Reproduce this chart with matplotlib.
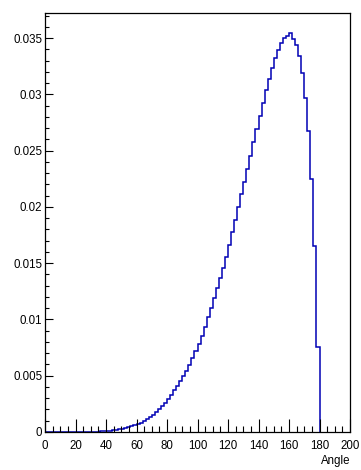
import numpy as np
import matplotlib
matplotlib.use("Agg")
import matplotlib.pyplot as plt
from matplotlib.ticker import MultipleLocator, FuncFormatter

# angle histogram, 2 degree bins from 0 to 180
bin_edges = np.arange(0, 182, 2)
counts = [
    0, 0, 0, 0, 0, 0, 0, 0, 0, 0, 0, 0, 0, 0,
    0.00001, 0.00002, 0.00003, 0.00004, 0.00006, 0.00008,
    0.00010, 0.00013, 0.00017, 0.00021, 0.00026, 0.00031,
    0.00037, 0.00044, 0.00052, 0.00061, 0.00072, 0.00084,
    0.00097, 0.00112, 0.00132, 0.00155, 0.00180, 0.00205,
    0.00232, 0.00262, 0.00295, 0.00332, 0.00370, 0.00410,
    0.00452, 0.00498, 0.00545, 0.00598, 0.00655, 0.00720,
    0.00785, 0.00855, 0.00935, 0.01018, 0.01103, 0.01190,
    0.01278, 0.01370, 0.01460, 0.01558, 0.01665, 0.01775,
    0.01885, 0.02000, 0.02112, 0.02222, 0.02335, 0.02455,
    0.02572, 0.02690, 0.02810, 0.02925, 0.03035, 0.03140,
    0.03235, 0.03320, 0.03395, 0.03460, 0.03500, 0.03522,
    0.03545, 0.03495, 0.03440, 0.03340, 0.03190, 0.02970,
    0.02670, 0.02250, 0.01650, 0.00755,
]
x_label = "Angle"

plt.rcParams['font.family'] = ['Liberation Sans', 'DejaVu Sans']

fig = plt.figure(figsize=(3.61, 4.70), dpi=100)
ax = fig.add_axes([45/361, 38/470, 305/361, 419/470])

ax.stairs(counts, bin_edges, color='#0000b4', linewidth=1.1, zorder=1)

ax.set_xlim(0, 200)
ax.set_ylim(0, 1.05*max(counts))

ax.xaxis.set_major_locator(MultipleLocator(20))
ax.xaxis.set_minor_locator(MultipleLocator(5))
ax.yaxis.set_major_locator(MultipleLocator(0.005))
ax.yaxis.set_minor_locator(MultipleLocator(0.001))
ax.yaxis.set_major_formatter(FuncFormatter(lambda v, p: f"{v:g}"))

ax.tick_params(axis='x', which='major', direction='in', length=9.2, width=0.8,
               labelsize=8.3, pad=5.5)
ax.tick_params(axis='x', which='minor', direction='in', length=4.5, width=0.8)
ax.tick_params(axis='y', which='major', direction='in', length=5.6, width=0.8,
               labelsize=8.3, pad=2)
ax.tick_params(axis='y', which='minor', direction='in', length=3.0, width=0.8)

for side in ax.spines.values():
    side.set_linewidth(0.9)
    side.set_color('black')

ax.set_xlabel(x_label, loc='right', fontsize=8.3, va='center')
ax.xaxis.set_label_coords(1.0, -0.0696)

fig.savefig("out.png", dpi=100)
